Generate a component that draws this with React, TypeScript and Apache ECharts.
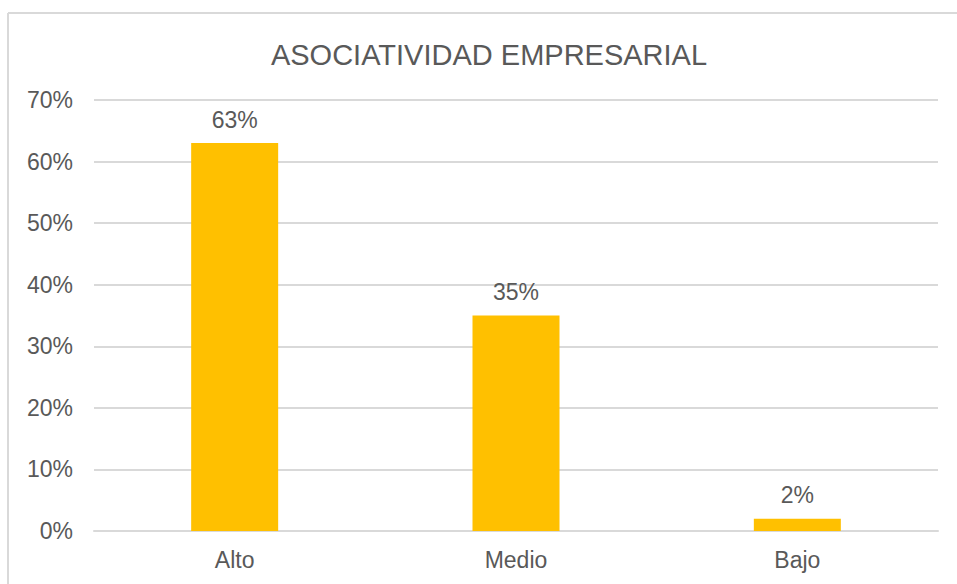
import React, { useEffect, useRef } from "react";
import * as echarts from "echarts";

const categories = ["Alto", "Medio", "Bajo"];
const values = [63, 35, 2];
const yTicks = [0, 10, 20, 30, 40, 50, 60, 70];
const titleText = "ASOCIATIVIDAD EMPRESARIAL";

const FONT = "'Liberation Sans', Arial, sans-serif";
const TEXT = "#595959";
const GRID = "#d9d9d9";

export default function App() {
  const ref = useRef<HTMLDivElement>(null);
  useEffect(() => {
    if (!ref.current) return;
    const chart = echarts.init(ref.current, undefined, { renderer: "svg" });
    chart.setOption({
      animation: false,
      backgroundColor: "#ffffff",
      title: {
        text: titleText,
        left: 484,
        top: 50,
        textAlign: "center",
        textVerticalAlign: "middle",
        textStyle: { fontFamily: FONT, fontSize: 29, fontWeight: "normal", color: TEXT },
      },
      graphic: [
        { type: "line", shape: { x1: 8, y1: 13, x2: 957, y2: 13 }, style: { stroke: GRID, lineWidth: 2 } },
        { type: "line", shape: { x1: 8, y1: 13, x2: 8, y2: 584 }, style: { stroke: GRID, lineWidth: 2 } },
      ],
      grid: { left: 94, right: 19, top: 100, bottom: 53, containLabel: false },
      xAxis: {
        type: "category",
        data: categories,
        axisLine: { show: true, lineStyle: { color: GRID, width: 2 } },
        axisTick: { show: false },
        axisLabel: { color: TEXT, fontFamily: FONT, fontSize: 23, margin: 17 },
      },
      yAxis: {
        type: "value",
        min: yTicks[0],
        max: yTicks[yTicks.length - 1],
        interval: 10,
        axisLine: { show: false },
        axisTick: { show: false },
        splitLine: { lineStyle: { color: GRID, width: 2 } },
        axisLabel: { color: TEXT, fontFamily: FONT, fontSize: 23, margin: 21, formatter: (v: number) => v + "%" },
      },
      series: [
        {
          type: "bar",
          data: values,
          barWidth: 87,
          itemStyle: { color: "#ffc000" },
          label: {
            show: true,
            position: "top",
            distance: 12,
            color: TEXT,
            fontFamily: FONT,
            fontSize: 23,
            formatter: (p: any) => p.value + "%",
          },
        },
      ],
    });
    return () => chart.dispose();
  }, []);
  return (
    <div
      ref={ref}
      style={{ position: "fixed", left: 0, top: 0, width: 957, height: 584 }}
    />
  );
}
